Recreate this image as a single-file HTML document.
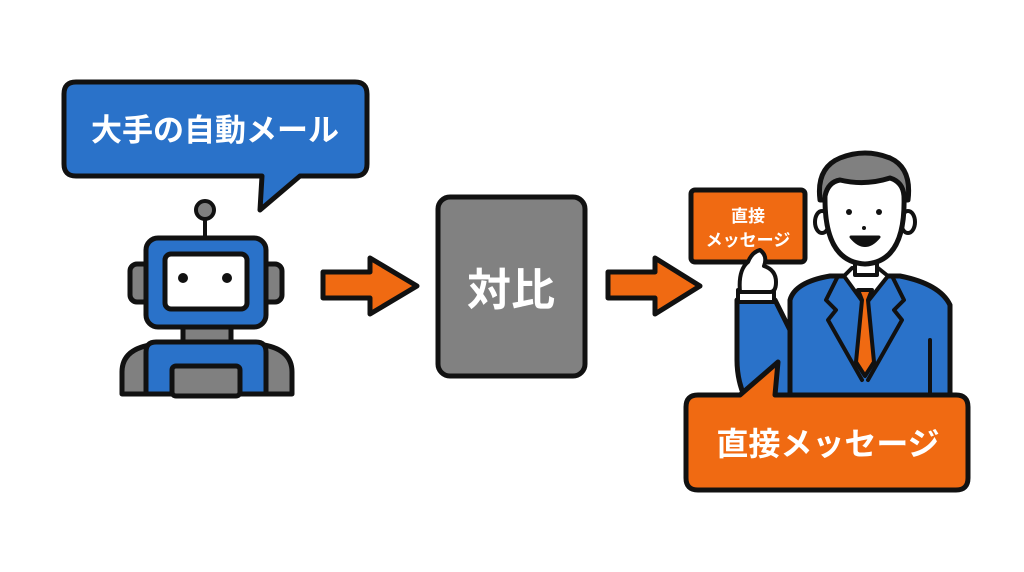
<!DOCTYPE html>
<html><head><meta charset="utf-8"><style>
html,body{margin:0;padding:0;background:#fff;width:1024px;height:572px;overflow:hidden}
text{font-family:"Liberation Sans","Noto Sans CJK JP",sans-serif;font-weight:bold;fill:#fff}
</style></head><body>
<svg width="1024" height="572" viewBox="0 0 1024 572" xmlns="http://www.w3.org/2000/svg">
<g stroke="#111" stroke-width="5" stroke-linejoin="round" stroke-linecap="round">
<!-- blue bubble -->
<path d="M76,82 H355 Q367,82 367,94 V164 Q367,176 355,176 H300 L260,210 L262,176 H76 Q64,176 64,164 V94 Q64,82 76,82 Z" fill="#2a72c9"/>
<!-- robot -->
<line x1="205" y1="218" x2="205" y2="240" stroke-width="4"/>
<circle cx="205" cy="210" r="9" fill="#808080" stroke-width="4"/>
<rect x="130" y="264" width="20" height="38" rx="7" fill="#808080"/>
<rect x="262" y="264" width="20" height="38" rx="7" fill="#808080"/>
<rect x="183" y="322" width="48" height="24" fill="#808080"/>
<path d="M122,394 V372 Q122,350 150,345 H264 Q292,350 292,372 V394 Z" fill="#808080"/>
<path d="M146,394 V352 Q146,342 156,342 H256 Q266,342 266,352 V394 Z" fill="#2a72c9"/>
<rect x="172" y="366" width="68" height="30" rx="4" fill="#808080"/>
<rect x="146" y="238" width="120" height="89" rx="12" fill="#2a72c9"/>
<rect x="165" y="254" width="82" height="55" rx="6" fill="#fff"/>
<!-- arrows -->
<path d="M323,272 H370 V258 L417,286 L370,314 V298 H323 Z" fill="#f06a12"/>
<path d="M608,272 H655 V258 L700,286 L655,314 V298 H608 Z" fill="#f06a12"/>
<!-- gray box -->
<rect x="438" y="197" width="147" height="179" rx="12" fill="#818181"/>
<!-- man body -->
<path d="M790,398 V300 Q795,282 830,276 H900 Q940,284 950,305 V398 Z" fill="#2a72c9"/>
<path d="M844,276 L865,305 L888,276 L878,268 H852 Z" fill="#fff" stroke-width="4"/>
<path d="M858,290 L872,290 L868,300 L874,362 L865,376 L856,362 L862,300 Z" fill="#f06a12" stroke-width="4"/>
<path d="M838,276 L826,300 L836,310 L828,320 L862,380" fill="none" stroke-width="4"/>
<path d="M892,276 L904,300 L894,310 L902,320 L868,380" fill="none" stroke-width="4"/>
<line x1="930" y1="340" x2="930" y2="398" stroke-width="4"/>
<!-- arm -->
<path d="M737,300 H775 L790,330 V398 H745 Q737,380 737,360 Z" fill="#2a72c9"/>
<rect x="738" y="290" width="36" height="12" fill="#fff" stroke-width="4"/>
<!-- face -->
<rect x="855" y="250" width="22" height="25" fill="#fff" stroke-width="4"/>
<path d="M820,200 Q816,168 840,158 Q865,148 890,158 Q912,168 908,200 Z" fill="#808080"/>
<ellipse cx="822" cy="222" rx="7" ry="11" fill="#fff" stroke-width="4"/>
<ellipse cx="908" cy="222" rx="7" ry="11" fill="#fff" stroke-width="4"/>
<path d="M825,196 Q828,182 840,180 Q865,186 890,178 Q903,182 904,196 Q906,262 865,264 Q824,262 825,196 Z" fill="#fff"/>
<path d="M851,237 Q865,254 879,237 Z" fill="#111" stroke-width="3"/>
<!-- card -->
<rect x="691" y="190" width="114" height="72" rx="4" fill="#f06a12"/>
<!-- hand -->
<path d="M740,292 Q738,270 748,262 Q752,252 760,250 Q768,256 764,266 Q776,270 776,282 Q776,292 770,292 Z" fill="#fff" stroke-width="4"/>
<!-- orange bubble -->
<path d="M698,395 H740 L778,362 L775,395 H956 Q968,395 968,407 V478 Q968,490 956,490 H698 Q686,490 686,478 V407 Q686,395 698,395 Z" fill="#f06a12"/>
</g>
<circle cx="183" cy="278" r="5" fill="#111"/>
<circle cx="227" cy="278" r="5" fill="#111"/>
<circle cx="849" cy="212" r="3" fill="#111"/>
<circle cx="879" cy="212" r="3" fill="#111"/>
<circle cx="864" cy="228" r="2" fill="#111"/>
<text x="215" y="141" font-size="31" text-anchor="middle">大手の自動メール</text>
<text x="511" y="305" font-size="44" text-anchor="middle">対比</text>
<text x="748" y="222" font-size="17" text-anchor="middle">直接</text>
<text x="748" y="246" font-size="17" text-anchor="middle">メッセージ</text>
<text x="828" y="455" font-size="32" text-anchor="middle">直接メッセージ</text>
</svg>
</body></html>
